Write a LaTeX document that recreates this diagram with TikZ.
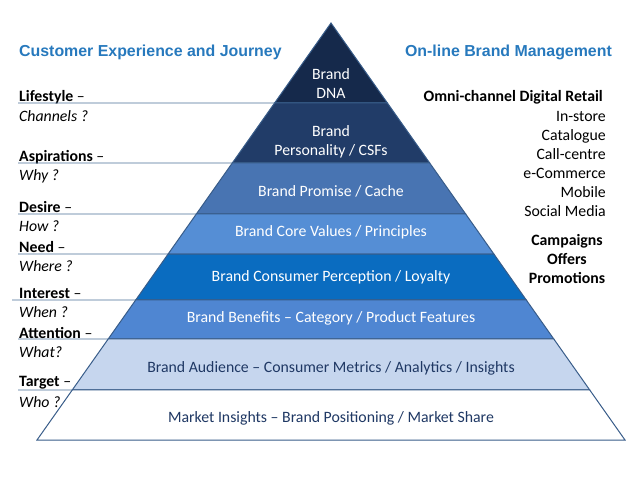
\documentclass[tikz,border=0pt]{standalone}
\usepackage{fontspec}
\setmainfont{Carlito}
\newfontfamily\headfont{Liberation Sans}
\usetikzlibrary{calc}

\definecolor{hdblue}{HTML}{2779BD}
\definecolor{edgeblue}{HTML}{385C89}
\definecolor{lineblue}{HTML}{4A6F96}
\definecolor{txtnavy}{HTML}{1F3864}
\definecolor{cDna}{HTML}{15294B}
\definecolor{cPers}{HTML}{213C68}
\definecolor{cProm}{HTML}{4874B2}
\definecolor{cCore}{HTML}{558ED5}
\definecolor{cCons}{HTML}{0A6CC0}
\definecolor{cBene}{HTML}{4F86D2}
\definecolor{cAud}{HTML}{C6D6EE}
\definecolor{cMkt}{HTML}{FFFFFF}

\tikzset{
  band/.style={draw=edgeblue,line width=1pt},
  wtxt/.style={text=white,align=center,font=\fontsize{15.8}{19}\selectfont},
  dtxt/.style={text=txtnavy,align=center,font=\fontsize{15.8}{19}\selectfont},
  head/.style={text=hdblue,font=\headfont\bfseries\fontsize{15.9}{18}\selectfont},
  side/.style={anchor=west,inner sep=0pt,font=\fontsize{15.8}{18}\selectfont},
  lline/.style={draw=lineblue,line width=0.9pt}
}

\begin{document}
\begin{tikzpicture}[x=1pt,y=-1pt]
\useasboundingbox (0,0) rectangle (638,479);

\coordinate (apex) at (331,23);
\coordinate (bl) at (37,440);
\coordinate (br) at (625,440);
\foreach \y [count=\i] in {23,103,163,214,254,300,339,390,440}{
  \coordinate (l\i) at ($(apex)!{(\y-23)/417}!(bl)$);
  \coordinate (r\i) at ($(apex)!{(\y-23)/417}!(br)$);
}

\foreach \c [count=\i, evaluate=\i as \j using int(\i+1)] in {cDna,cPers,cProm,cCore,cCons,cBene,cAud,cMkt}
  \filldraw[band,fill=\c] (l\i) -- (r\i) -- (r\j) -- (l\j) -- cycle;

\node[wtxt] (dna) at (331,83.5) {Brand\\DNA};
\node[wtxt] (pers) at (331,141.5) {Brand\\Personality / CSFs};
\node[wtxt] (prom) at (331,191) {Brand Promise / Cache};
\node[wtxt] (core) at (331,232) {Brand Core Values / Principles};
\node[wtxt] (cons) at (331,277) {Brand Consumer Perception / Loyalty};
\node[wtxt] (bene) at (331,318) {Brand Benefits -- Category / Product Features};
\node[dtxt] (aud) at (331,368) {Brand Audience -- Consumer Metrics / Analytics / Insights};
\node[dtxt] (mkt) at (331,418) {Market Insights -- Brand Positioning / Market Share};

\node[head,anchor=west,inner sep=0pt] (cej) at (19,52) {Customer Experience and Journey};
\node[head,anchor=east,inner sep=0pt] (obm) at (612,52) {On-line Brand Management};

\foreach \nm/\q/\ya/\yl/\xs [count=\i, evaluate=\i as \j using int(\i+1)] in
  {Lifestyle/Channels ?/97/103/18, Aspirations/Why ?/157/163/18, Desire/How ?/207/214/18,
   Need/Where ?/247/254/18, Interest/When ?/293/300/12, Attention/What?/333/339/18,
   Target/Who ?/383/390/18}{
  \node[side] (lab\i) at (19,\ya) {\textbf{\nm} --};
  \node[side] (q\i) at (19,\ya+19) {\itshape \q};
  \coordinate (ls\i) at (\xs,\yl);
  \draw[lline] (ls\i) -- (l\j);
}

\node[anchor=east,inner sep=0pt,font=\bfseries\fontsize{15.8}{19}\selectfont] (omni) at (603,97) {Omni-channel Digital Retail};
\node[anchor=east,inner sep=0pt,align=right,font=\fontsize{15.8}{19}\selectfont] (chan) at (606,163.5)
  {In-store\\Catalogue\\Call-centre\\e-Commerce\\Mobile\\Social Media};
\node[align=center,inner sep=0pt,font=\bfseries\fontsize{15.8}{19}\selectfont] (camp) at (567,259)
  {Campaigns\\Offers\\Promotions};
\end{tikzpicture}
\end{document}
